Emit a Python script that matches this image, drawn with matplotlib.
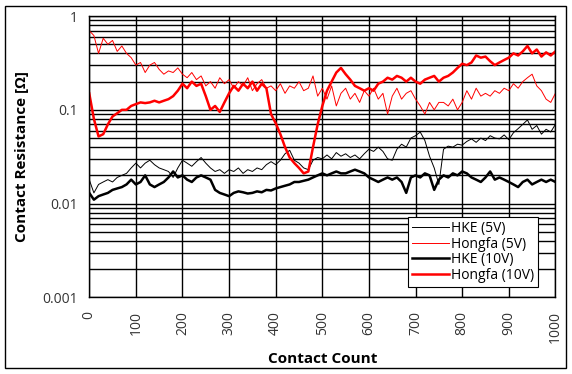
import numpy as np
import matplotlib
matplotlib.use('Agg')
from matplotlib import pyplot as plt
from matplotlib.patches import Rectangle
from matplotlib.ticker import FixedLocator, FixedFormatter, NullFormatter

# contact count, every 10 cycles
count = list(range(0, 1001, 10))

hke_5v = [0.018, 0.013, 0.016, 0.017, 0.018, 0.017, 0.019, 0.020, 0.021, 0.024,
          0.027, 0.024, 0.027, 0.029, 0.026, 0.024, 0.023, 0.022, 0.019, 0.024,
          0.029, 0.027, 0.025, 0.028, 0.031, 0.027, 0.024, 0.022, 0.023, 0.021,
          0.023, 0.022, 0.024, 0.021, 0.023, 0.022, 0.024, 0.023, 0.026, 0.028,
          0.026, 0.029, 0.034, 0.037, 0.029, 0.027, 0.024, 0.023, 0.029, 0.031,
          0.030, 0.033, 0.030, 0.035, 0.032, 0.034, 0.031, 0.033, 0.030, 0.034,
          0.038, 0.036, 0.040, 0.036, 0.030, 0.029, 0.038, 0.043, 0.040, 0.050,
          0.053, 0.058, 0.047, 0.032, 0.024, 0.016, 0.038, 0.041, 0.040, 0.043,
          0.042, 0.046, 0.049, 0.045, 0.050, 0.047, 0.053, 0.050, 0.049, 0.054,
          0.048, 0.057, 0.063, 0.070, 0.078, 0.062, 0.068, 0.055, 0.062, 0.058,
          0.070]

hongfa_5v = [0.70, 0.62, 0.40, 0.58, 0.50, 0.55, 0.42, 0.48, 0.40, 0.36,
             0.30, 0.32, 0.25, 0.30, 0.32, 0.27, 0.24, 0.26, 0.25, 0.28,
             0.24, 0.22, 0.25, 0.21, 0.23, 0.18, 0.20, 0.17, 0.22, 0.19,
             0.21, 0.17, 0.20, 0.18, 0.22, 0.16, 0.19, 0.21, 0.17, 0.18,
             0.16, 0.19, 0.15, 0.18, 0.17, 0.20, 0.16, 0.17, 0.23, 0.14,
             0.17, 0.13, 0.18, 0.11, 0.15, 0.17, 0.13, 0.15, 0.12, 0.16,
             0.14, 0.17, 0.13, 0.15, 0.09, 0.14, 0.17, 0.13, 0.15, 0.16,
             0.13, 0.11, 0.09, 0.12, 0.10, 0.12, 0.12, 0.11, 0.13, 0.10,
             0.12, 0.16, 0.13, 0.17, 0.14, 0.15, 0.14, 0.16, 0.15, 0.17,
             0.16, 0.19, 0.17, 0.20, 0.22, 0.24, 0.18, 0.16, 0.13, 0.12,
             0.15]

hke_10v = [0.013, 0.011, 0.012, 0.0125, 0.013, 0.014, 0.0145, 0.015, 0.016, 0.018,
           0.016, 0.017, 0.020, 0.016, 0.015, 0.016, 0.017, 0.019, 0.022, 0.019,
           0.020, 0.018, 0.017, 0.019, 0.020, 0.019, 0.018, 0.014, 0.013, 0.0125,
           0.012, 0.013, 0.0135, 0.0132, 0.0128, 0.013, 0.0135, 0.0132, 0.014, 0.0138,
           0.0145, 0.015, 0.0155, 0.016, 0.017, 0.017, 0.0175, 0.018, 0.019, 0.020,
           0.021, 0.020, 0.021, 0.022, 0.021, 0.021, 0.022, 0.023, 0.022, 0.021,
           0.019, 0.018, 0.017, 0.018, 0.019, 0.018, 0.019, 0.017, 0.013, 0.019,
           0.020, 0.019, 0.021, 0.020, 0.014, 0.018, 0.020, 0.019, 0.021, 0.020,
           0.022, 0.021, 0.019, 0.018, 0.017, 0.019, 0.022, 0.018, 0.019, 0.018,
           0.017, 0.016, 0.015, 0.017, 0.018, 0.016, 0.017, 0.018, 0.017, 0.018,
           0.017]

hongfa_10v = [0.15, 0.08, 0.052, 0.055, 0.07, 0.085, 0.092, 0.10, 0.10, 0.11,
              0.115, 0.12, 0.118, 0.12, 0.125, 0.12, 0.125, 0.13, 0.14, 0.16,
              0.19, 0.17, 0.20, 0.18, 0.19, 0.14, 0.10, 0.11, 0.095, 0.12,
              0.15, 0.18, 0.16, 0.19, 0.17, 0.20, 0.16, 0.19, 0.17, 0.09,
              0.072, 0.055, 0.04, 0.031, 0.027, 0.024, 0.021, 0.022, 0.04, 0.07,
              0.11, 0.16, 0.20, 0.25, 0.28, 0.24, 0.21, 0.18, 0.17, 0.16,
              0.17, 0.16, 0.19, 0.20, 0.22, 0.21, 0.23, 0.22, 0.20, 0.22,
              0.20, 0.19, 0.21, 0.22, 0.23, 0.20, 0.22, 0.23, 0.25, 0.28,
              0.31, 0.30, 0.32, 0.38, 0.36, 0.37, 0.33, 0.30, 0.32, 0.34,
              0.36, 0.40, 0.38, 0.42, 0.48, 0.40, 0.44, 0.37, 0.41, 0.38,
              0.42]

y_ticks = [0.001, 0.01, 0.1, 1]
y_labels = ['0.001', '0.01', '0.1', '1']
x_ticks = list(range(0, 1001, 100))

plt.rcParams['font.family'] = ['Open Sans', 'DejaVu Sans']

fig = plt.figure(figsize=(5.72, 3.74), dpi=100)
ax = fig.add_axes([0.156, 0.205, 0.815, 0.752])

ax.plot(count, hke_5v, color='black', lw=0.7, label='HKE (5V)')
ax.plot(count, hongfa_5v, color='red', lw=0.7, label='Hongfa (5V)')
ax.plot(count, hke_10v, color='black', lw=1.8, label='HKE (10V)')
ax.plot(count, hongfa_10v, color='red', lw=1.8, label='Hongfa (10V)')

ax.set_yscale('log')
ax.set_ylim(0.001, 1)
ax.set_xlim(0, 1000)
ax.yaxis.set_major_locator(FixedLocator(y_ticks))
ax.yaxis.set_major_formatter(FixedFormatter(y_labels))
minor = [m * d for d in [0.001, 0.01, 0.1] for m in range(2, 10)]
ax.yaxis.set_minor_locator(FixedLocator(minor))
ax.yaxis.set_minor_formatter(NullFormatter())
ax.set_xticks(x_ticks)
ax.set_xticklabels([str(t) for t in x_ticks], rotation=90)

ax.grid(True, which='both', axis='y', color='black', lw=1.0)
ax.grid(True, which='major', axis='x', color='black', lw=1.0)
ax.set_axisbelow(True)
ax.tick_params(which='both', length=0, labelsize=10, colors='#333333')
ax.tick_params(axis='y', pad=8)
ax.tick_params(axis='x', pad=10)
for s in ax.spines.values():
    s.set_linewidth(1.0)

ax.set_xlabel('Contact Count', fontsize=11, fontweight='bold', labelpad=6)
ax.set_ylabel('Contact Resistance [Ω]', fontsize=11, fontweight='bold', labelpad=10)

leg = ax.legend(loc='lower left', bbox_to_anchor=(0.683, 0.036), borderaxespad=0,
                fontsize=10, fancybox=False, framealpha=1, edgecolor='black',
                handlelength=2.65, handletextpad=0.15, labelspacing=0.05,
                borderpad=0.3)
leg.get_frame().set_linewidth(0.8)

# outer frame round the whole picture
fig.add_artist(Rectangle((5 / 572, 6 / 374), 561 / 572, 362 / 374, transform=fig.transFigure,
                         fill=False, edgecolor='black', lw=1.0))

fig.savefig('out.png', dpi=100)
